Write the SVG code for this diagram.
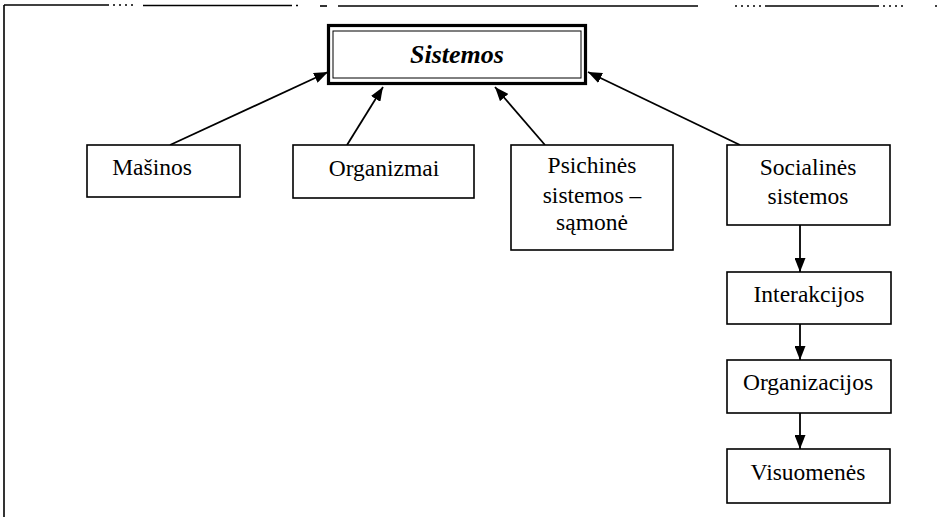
<svg xmlns="http://www.w3.org/2000/svg" width="942" height="517" viewBox="0 0 942 517">
<defs>
<style>
.box{fill:#fff;stroke:#000;stroke-width:1.6}
.t{font-family:"Liberation Serif","Times New Roman",serif;font-size:23.5px;fill:#000;text-anchor:middle}
.c{stroke:#000;stroke-width:1.8;fill:none}
.frame{stroke:#000;stroke-width:1.6;fill:none}
</style>
<marker id="ah" viewBox="0 0 14 11" refX="14" refY="5.5" markerWidth="14" markerHeight="11" markerUnits="userSpaceOnUse" orient="auto">
<path d="M0,0 L14,5.5 L0,11 Z" fill="#000"/>
</marker>
</defs>
<rect width="942" height="517" fill="#fff"/>
<g id="frame">
<line class="frame" x1="4" y1="5" x2="4" y2="517"/>
<line class="frame" x1="4" y1="5" x2="107" y2="5"/>
<line class="frame" x1="107" y1="5" x2="133" y2="5" stroke-dasharray="2 4"/>
<line class="frame" x1="143" y1="5.5" x2="290" y2="5.5"/>
<line class="frame" x1="290" y1="5.5" x2="298" y2="5.5" stroke-dasharray="2 4"/>
<line class="frame" x1="320" y1="6" x2="327" y2="6"/>
<line class="frame" x1="338" y1="6" x2="698" y2="6"/>
<line class="frame" x1="735" y1="6" x2="763" y2="6" stroke-dasharray="2 4"/>
<line class="frame" x1="765" y1="6" x2="877" y2="6"/>
<line class="frame" x1="877" y1="6" x2="903" y2="6" stroke-dasharray="2 4"/>
<line class="frame" x1="935" y1="6" x2="940" y2="6" stroke-dasharray="2 3"/>
</g>
<g id="connectors">
<line class="c" x1="170" y1="145" x2="328" y2="72" marker-end="url(#ah)"/>
<line class="c" x1="347" y1="145" x2="383" y2="87" marker-end="url(#ah)"/>
<line class="c" x1="545" y1="145" x2="495" y2="87" marker-end="url(#ah)"/>
<line class="c" x1="740" y1="145" x2="588" y2="72" marker-end="url(#ah)"/>
<line class="c" x1="800" y1="225" x2="800" y2="272" marker-end="url(#ah)"/>
<line class="c" x1="800" y1="324" x2="800" y2="360" marker-end="url(#ah)"/>
<line class="c" x1="800" y1="413" x2="800" y2="449" marker-end="url(#ah)"/>
</g>
<g id="sistemos">
<rect x="328.5" y="25.5" width="257" height="58" fill="#fff" stroke="#000" stroke-width="3.2"/>
<rect x="333" y="31" width="248" height="47" fill="none" stroke="#000" stroke-width="1"/>
<text class="t" x="457" y="63" font-weight="bold" font-style="italic" style="font-size:26px">Sistemos</text>
</g>
<g id="masinos">
<rect class="box" x="87" y="145" width="153" height="52"/>
<text class="t" x="152" y="175">Mašinos</text>
</g>
<g id="organizmai">
<rect class="box" x="293" y="145" width="181" height="53"/>
<text class="t" x="384" y="176">Organizmai</text>
</g>
<g id="psichines">
<rect class="box" x="511" y="145" width="162" height="105"/>
<text class="t" x="592" y="173">Psichinės</text>
<text class="t" x="592" y="203">sistemos –</text>
<text class="t" x="592" y="230">sąmonė</text>
</g>
<g id="socialines">
<rect class="box" x="727" y="145" width="163" height="80"/>
<text class="t" x="808" y="175">Socialinės</text>
<text class="t" x="808" y="204">sistemos</text>
</g>
<g id="interakcijos">
<rect class="box" x="727" y="272" width="164" height="52"/>
<text class="t" x="809" y="302">Interakcijos</text>
</g>
<g id="organizacijos">
<rect class="box" x="727" y="360" width="164" height="53"/>
<text class="t" x="808" y="390">Organizacijos</text>
</g>
<g id="visuomenes">
<rect class="box" x="727" y="449" width="163" height="54" stroke-width="2"/>
<text class="t" x="808" y="480">Visuomenės</text>
</g>
</svg>
